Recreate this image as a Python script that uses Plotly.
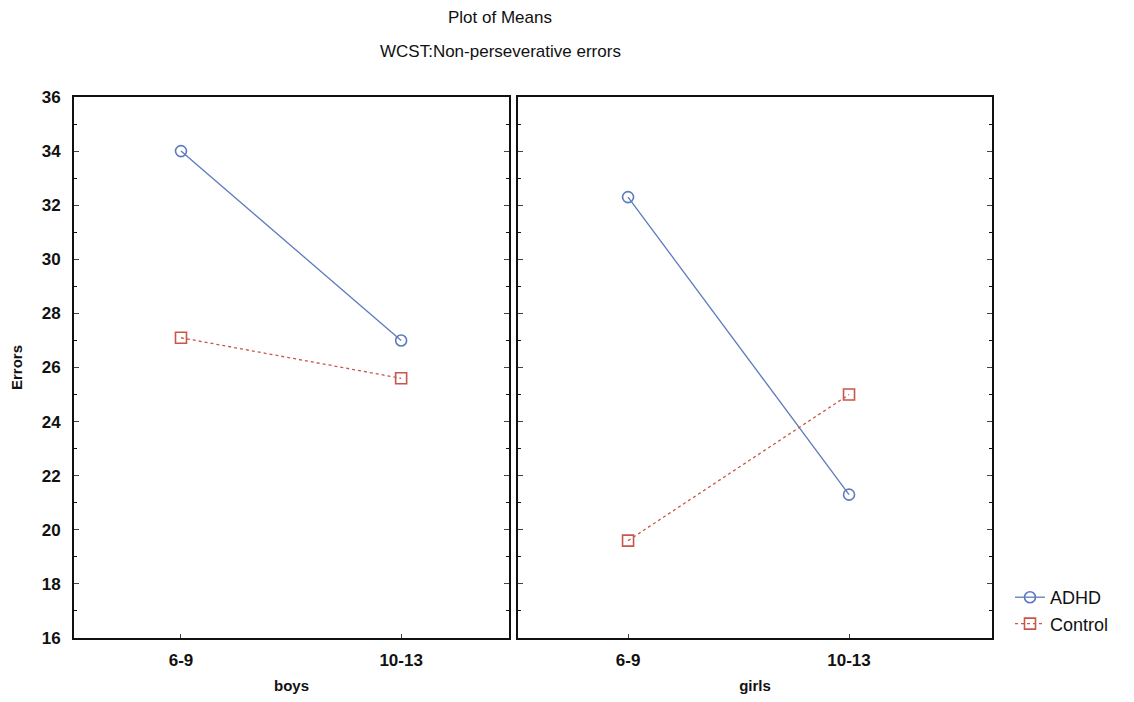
import plotly.graph_objects as go

ages = ["6-9", "10-13"]
boys_adhd = [34.0, 27.0]
boys_control = [27.1, 25.6]
girls_adhd = [32.3, 21.3]
girls_control = [19.6, 25.0]
y_ticks = [16, 18, 20, 22, 24, 26, 28, 30, 32, 34, 36]

# page body has an 8px margin, so the figure is drawn 16px smaller and offset by 8
W, H = 1134, 702
OFF = 8
FW, FH = W - 2 * OFF, H - 2 * OFF
blue = "#5b7bbd"
red = "#c8564a"


def px_x(p):
    return (p - OFF) / FW


def px_y(p):
    return 1 - (p - OFF) / FH


fig = go.Figure()
xs = [0, 1]
series = [
    (boys_adhd, "ADHD", blue, "solid", "circle-open", "x", "y", True),
    (boys_control, "Control", red, "dot", "square-open", "x", "y", True),
    (girls_adhd, "ADHD", blue, "solid", "circle-open", "x2", "y2", False),
    (girls_control, "Control", red, "dot", "square-open", "x2", "y2", False),
]
for vals, name, col, dash, sym, xa, ya, sl in series:
    fig.add_trace(go.Scatter(
        x=xs, y=vals, mode="lines+markers", name=name,
        line=dict(color=col, width=1.3, dash=dash),
        marker=dict(symbol=sym, size=11, color=col, line=dict(width=1.6)),
        xaxis=xa, yaxis=ya, legendgroup=name, showlegend=sl))

ytop, ybot = 97, 638
tick_font = dict(family="Liberation Sans, Arial", size=17, color="#111", weight="bold")
title_font = dict(family="Liberation Sans, Arial", size=15, color="#111", weight="bold")
plain_font = dict(family="Liberation Sans, Arial", size=17, color="#111")

common_x = dict(tickmode="array", tickvals=xs, ticktext=ages, ticks="inside", ticklen=4,
                ticklabelstandoff=6,
                showline=True, linecolor="#111", linewidth=2, mirror=True,
                showgrid=False, zeroline=False, tickfont=tick_font, fixedrange=True,
                automargin=False)
common_y = dict(range=[16, 36], tickmode="array", tickvals=y_ticks, ticks="inside", ticklen=5,
                ticklabelstandoff=8,
                minor=dict(ticks="inside", dtick=1, ticklen=3, tickcolor="#111", showgrid=False),
                showline=True, linecolor="#111", linewidth=2, mirror="ticks",
                showgrid=False, zeroline=False, tickfont=tick_font, fixedrange=True,
                automargin=False)

fig.update_layout(
    width=FW, height=FH,
    margin=dict(l=0, r=0, t=0, b=0, autoexpand=False),
    paper_bgcolor="white", plot_bgcolor="white",
    font=plain_font,
    showlegend=True,
    xaxis=dict(domain=[px_x(74), px_x(509)], range=[-0.486, 1.49],
               title=dict(text="boys", font=title_font, standoff=16), **common_x),
    yaxis=dict(domain=[px_y(ybot), px_y(ytop)], anchor="x",
               title=dict(text="Errors", font=title_font, standoff=18), **common_y),
    xaxis2=dict(domain=[px_x(518), px_x(992)], range=[-0.498, 1.647], anchor="y2",
                title=dict(text="girls", font=title_font, standoff=12), **common_x),
    yaxis2=dict(domain=[px_y(ybot), px_y(ytop)], anchor="x2", showticklabels=False, **common_y),
    legend=dict(x=px_x(1010), y=px_y(579), xanchor="left", yanchor="top",
                font=dict(family="Liberation Sans, Arial", size=18, color="#111"),
                bgcolor="rgba(0,0,0,0)", tracegroupgap=0, itemwidth=30),
    annotations=[
        dict(text="Plot of Means", x=px_x(500), y=px_y(17), xref="paper", yref="paper",
             showarrow=False, font=plain_font, xanchor="center", yanchor="middle"),
        dict(text="WCST:Non-perseverative errors", x=px_x(500), y=px_y(51), xref="paper", yref="paper",
             showarrow=False, font=plain_font, xanchor="center", yanchor="middle"),
    ],
)

fig.write_html("out.html")
